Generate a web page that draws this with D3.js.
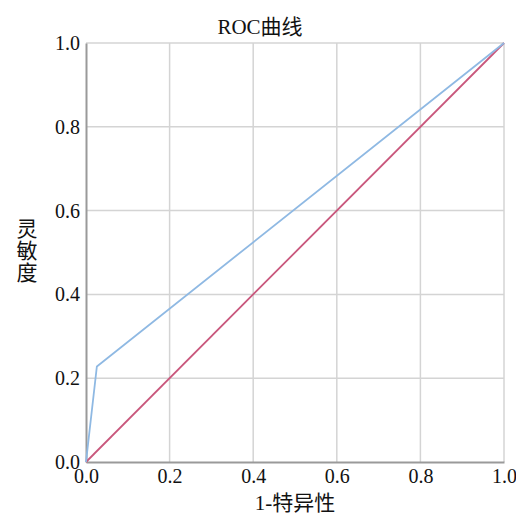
<!DOCTYPE html>
<html>
<head>
<meta charset="utf-8">
<script src="https://cdn.jsdelivr.net/npm/d3@7"></script>
<style>
  body { margin: 0; background: #fff; }
</style>
</head>
<body>
<div class="chartWrap"></div>
<script>
// Data
const ticks = [0, 0.2, 0.4, 0.6, 0.8, 1.0];
const rocX = [0, 0.026, 1];   // 1 - specificity
const rocY = [0, 0.228, 1];   // sensitivity
const refX = [0, 1];
const refY = [0, 1];

let width = 516, height = 517,
    padL = 86, padR = 504, padT = 43, padB = 462;
const serif = "'Liberation Serif', 'Times New Roman', 'DejaVu Serif', 'Noto Sans CJK SC', serif";

let svg = d3.select(".chartWrap").append("svg").attr("width", width).attr("height", height);

let x = d3.scaleLinear().domain([0, 1]).range([padL, padR]);
let y = d3.scaleLinear().domain([0, 1]).range([padB, padT]);

// Gridlines
svg.append("g").selectAll("line").data(ticks.slice(1)).enter().append("line")
  .attr("x1", d => x(d)).attr("x2", d => x(d))
  .attr("y1", padT).attr("y2", padB)
  .attr("stroke", "#d4d4d4").attr("stroke-width", 1.5);
svg.append("g").selectAll("line").data(ticks.slice(1)).enter().append("line")
  .attr("y1", d => y(d)).attr("y2", d => y(d))
  .attr("x1", padL).attr("x2", padR)
  .attr("stroke", "#d4d4d4").attr("stroke-width", 1.5);

// Axes
let xAxis = svg.append("g").attr("transform", "translate(0," + padB + ")")
  .call(d3.axisBottom(x).tickValues(ticks).tickFormat(d3.format(".1f")).tickSize(0).tickPadding(7));
let yAxis = svg.append("g").attr("transform", "translate(" + padL + ",0)")
  .call(d3.axisLeft(y).tickValues(ticks).tickFormat(d3.format(".1f")).tickSize(0).tickPadding(6));
[xAxis, yAxis].forEach(a => {
  a.attr("font-family", null).attr("font-size", null);
  a.select(".domain").attr("stroke", "#9a9a9a").attr("stroke-width", 2);
  a.selectAll("text").style("font-family", serif).style("font-size", "20px").attr("fill", "#111");
});

// Lines
let line = d3.line().x(d => x(d[0])).y(d => y(d[1]));
svg.append("path").datum(refX.map((v, i) => [v, refY[i]]))
  .attr("d", line).attr("fill", "none").attr("stroke", "#c9577c").attr("stroke-width", 1.8);
svg.append("path").datum(rocX.map((v, i) => [v, rocY[i]]))
  .attr("d", line).attr("fill", "none").attr("stroke", "#8fb9e3").attr("stroke-width", 1.8);

// Titles
svg.append("text").text("ROC曲线")
  .attr("x", 260).attr("y", 34).attr("text-anchor", "middle")
  .style("font-family", serif).style("font-size", "21px").attr("fill", "#111");
svg.append("text").text("1-特异性")
  .attr("x", 295).attr("y", 510).attr("text-anchor", "middle")
  .style("font-family", serif).style("font-size", "21px").attr("fill", "#111");
["灵", "敏", "度"].forEach((c, i) => {
  svg.append("text").text(c)
    .attr("x", 27).attr("y", 236 + i * 22).attr("text-anchor", "middle")
    .style("font-family", serif).style("font-size", "21px").attr("fill", "#111");
});
</script>
</body>
</html>
